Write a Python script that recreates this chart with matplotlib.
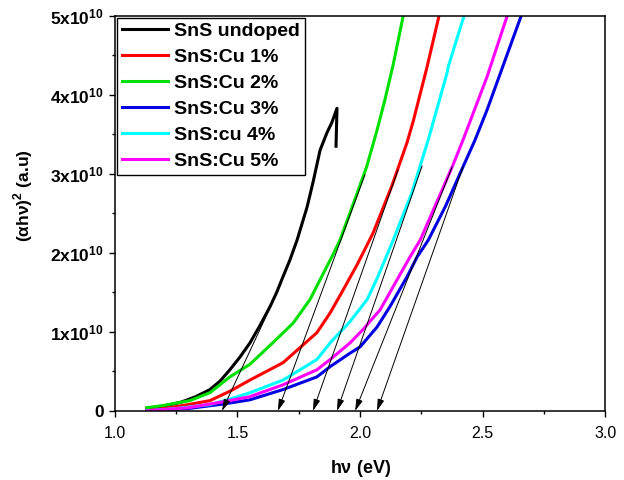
import numpy as np
import matplotlib
matplotlib.use('Agg')
import matplotlib.pyplot as plt

plt.rcParams['font.family'] = ['Liberation Sans', 'DejaVu Sans']
plt.rcParams['mathtext.fontset'] = 'custom'
plt.rcParams['mathtext.rm'] = 'Liberation Sans'
plt.rcParams['mathtext.bf'] = 'Liberation Sans:bold'

# Datos (energia en eV, (alpha h nu)^2 en unidades de 1e10)
e_undoped = [1.13, 1.20, 1.27, 1.33, 1.388, 1.43, 1.469, 1.51, 1.551, 1.59, 1.633, 1.66,
             1.686, 1.714, 1.743, 1.784, 1.808, 1.837, 1.865, 1.885, 1.906, 1.902]
y_undoped = [0.03, 0.06, 0.11, 0.18, 0.27, 0.38, 0.52, 0.68, 0.86, 1.07, 1.32, 1.50,
             1.70, 1.91, 2.16, 2.58, 2.89, 3.30, 3.52, 3.65, 3.83, 3.35]

e_cu1 = [1.13, 1.20, 1.30, 1.388, 1.47, 1.551, 1.686, 1.824, 1.878, 1.931, 1.988, 2.053,
         2.13, 2.192, 2.218, 2.273, 2.322]
y_cu1 = [0.01, 0.03, 0.08, 0.13, 0.25, 0.39, 0.61, 0.99, 1.24, 1.53, 1.85, 2.25,
         2.85, 3.40, 3.68, 4.35, 5.0]

e_cu2 = [1.13, 1.20, 1.306, 1.388, 1.469, 1.551, 1.63, 1.727, 1.796, 1.837, 1.89, 1.918,
         1.97, 2.027, 2.069, 2.10, 2.135, 2.176]
y_cu2 = [0.04, 0.07, 0.13, 0.23, 0.43, 0.59, 0.82, 1.11, 1.41, 1.66, 1.98, 2.16,
         2.60, 3.09, 3.55, 3.92, 4.38, 5.0]

e_cu3 = [1.13, 1.30, 1.45, 1.551, 1.686, 1.824, 1.878, 1.959, 2.0, 2.069, 2.122, 2.192,
         2.233, 2.278, 2.35, 2.42, 2.469, 2.518, 2.657]
y_cu3 = [0.0, 0.03, 0.09, 0.14, 0.27, 0.43, 0.56, 0.73, 0.81, 1.06, 1.32, 1.70,
         1.95, 2.16, 2.60, 3.09, 3.43, 3.81, 5.0]

e_cu4 = [1.13, 1.25, 1.388, 1.47, 1.551, 1.686, 1.824, 1.878, 1.959, 2.029, 2.07, 2.135,
         2.21, 2.278, 2.355, 2.36, 2.424]
y_cu4 = [0.0, 0.03, 0.08, 0.15, 0.23, 0.39, 0.65, 0.86, 1.13, 1.41, 1.68, 2.16,
         2.75, 3.43, 4.28, 4.36, 5.0]

e_cu5 = [1.13, 1.30, 1.45, 1.551, 1.686, 1.824, 1.878, 1.959, 2.012, 2.082, 2.151, 2.204,
         2.245, 2.376, 2.42, 2.518, 2.60]
y_cu5 = [0.0, 0.04, 0.12, 0.18, 0.33, 0.52, 0.65, 0.86, 1.03, 1.28, 1.66, 1.95,
         2.16, 3.09, 3.43, 4.23, 5.0]

etiquetas = ['SnS undoped', 'SnS:Cu 1%', 'SnS:Cu 2%', 'SnS:Cu 3%', 'SnS:cu 4%', 'SnS:Cu 5%']
colores = ['black', 'red', '#00e000', '#0000e0', 'cyan', 'magenta']

# Tangentes (inicio y corte con el eje x)
tang_x0 = [1.64, 2.020, 2.155, 2.253, 2.376, 2.420]
tang_y0 = [1.35, 2.99, 3.05, 3.10, 3.09, 3.09]
gap = [1.437, 1.665, 1.808, 1.906, 1.98, 2.069]

yticks = [0, 1, 2, 3, 4, 5]
ytick_labels = ['0', r'$\mathbf{1x10^{10}}$', r'$\mathbf{2x10^{10}}$', r'$\mathbf{3x10^{10}}$',
                r'$\mathbf{4x10^{10}}$', r'$\mathbf{5x10^{10}}$']

fig = plt.figure(figsize=(6.24, 4.8), dpi=100)
ax = fig.add_axes([0.184, 0.144, 0.786, 0.823])

series = [(e_undoped, y_undoped), (e_cu1, y_cu1), (e_cu2, y_cu2),
          (e_cu3, y_cu3), (e_cu4, y_cu4), (e_cu5, y_cu5)]
for (e, y), lab, c in zip(series, etiquetas, colores):
    ax.plot(e, np.array(y) * 1e10, color=c, lw=2.2, label=lab, solid_joinstyle='round')

for x0, y0, g in zip(tang_x0, tang_y0, gap):
    ax.annotate('', xy=(g, 0), xytext=(x0, y0 * 1e10),
                arrowprops=dict(arrowstyle='-|>,head_length=0.7,head_width=0.2',
                                color='black', lw=0.7, mutation_scale=10,
                                shrinkA=0, shrinkB=0))

ax.set_xlim(1.0, 3.0)
ax.set_ylim(0, 5e10)
ax.set_xticks([1.0, 1.5, 2.0, 2.5, 3.0])
ax.set_xticklabels(['1.0', '1.5', '2.0', '2.5', '3.0'], fontsize=11.5)
ax.set_xticks(np.arange(1.25, 3.0, 0.5), minor=True)
ax.set_yticks(np.array(yticks) * 1e10)
ax.set_yticklabels(ytick_labels, fontsize=12.5, fontweight='bold')
ax.set_yticks(np.arange(0.5, 5.0, 1.0) * 1e10, minor=True)
ax.tick_params(which='major', direction='out', length=4, width=1.0)
ax.tick_params(which='minor', direction='out', length=2.5, width=1.0)
ax.tick_params(axis='y', which='major', length=4.5)
ax.tick_params(axis='x', which='major', pad=7)
for s in ax.spines.values():
    s.set_linewidth(1.1)

ax.set_xlabel(r'h$\mathbf{\nu}$ (eV)', fontsize=13, fontweight='bold', labelpad=12)
ax.set_ylabel(r'($\mathbf{\alpha}$h$\mathbf{\nu}$)$^\mathbf{2}$ (a.u)', fontsize=12.5,
              fontweight='bold')
ax.yaxis.set_label_coords(-0.163, 0.545)

leg = ax.legend(loc='upper left', bbox_to_anchor=(0.004, 0.995), prop={'size': 14, 'weight': 'bold'},
                fancybox=False, framealpha=1, edgecolor='black', handlelength=2.4,
                handletextpad=0.3, labelspacing=0.43, borderpad=0.25, borderaxespad=0)
leg.get_frame().set_linewidth(1.0)

fig.savefig('out.png', dpi=100)
